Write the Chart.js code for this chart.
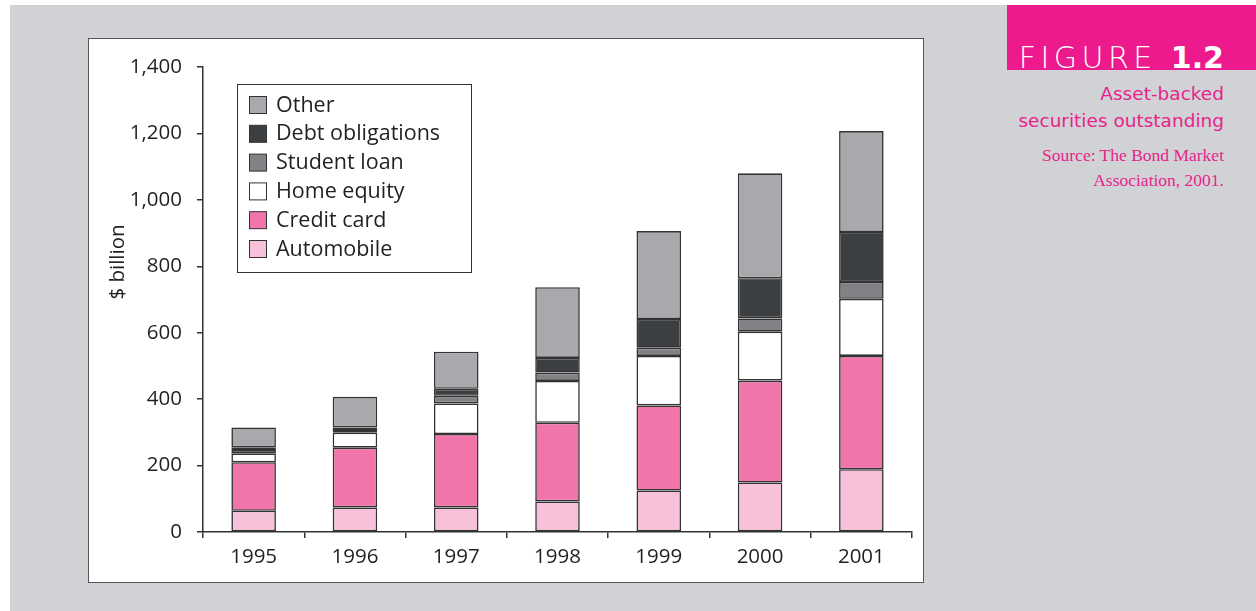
<!DOCTYPE html>
<html>
<head>
<meta charset="utf-8">
<script src="https://cdn.jsdelivr.net/npm/chart.js@4.4.1/dist/chart.umd.min.js"></script>
<style>
  body { margin: 0; width: 1256px; height: 611px; background: #fff; position: relative; overflow: hidden; }
  #bg { position: absolute; left: 10px; top: 5px; width: 1246px; height: 606px; background: #d1d2d5; }
  #box { position: absolute; left: 88px; top: 38px; width: 834px; height: 543px; background: #fff; border: 1px solid #555; }
  #header { position: absolute; left: 1007px; top: 5px; width: 249px; height: 65px; background: #ec1a8c; overflow: hidden; }
  #fig { position: absolute; right: 32px; top: 38px; color: #fff; font-family: "DejaVu Sans", sans-serif; font-size: 30px; line-height: 30px; white-space: nowrap; }
  #fig .word { font-weight: 200; letter-spacing: 4.5px; }
  #fig .num { font-weight: bold; }
  .cap { position: absolute; right: 32px; color: #e8238c; white-space: nowrap; text-align: right; }
  .cap.sans { font-family: "DejaVu Sans", sans-serif; font-size: 18.5px; }
  .cap.serif { font-family: "Liberation Serif", serif; font-size: 17.5px; }
</style>
</head>
<body>
<div id="bg"></div>
<div id="box"><canvas id="chart" width="834" height="543"></canvas></div>
<div id="header"><div id="fig"><span class="word">FIGURE </span><span class="num">1.2</span></div></div>
<div class="cap sans" style="top:83px">Asset-backed</div>
<div class="cap sans" style="top:110px">securities outstanding</div>
<div class="cap serif" style="top:145px">Source: The Bond Market</div>
<div class="cap serif" style="top:170px">Association, 2001.</div>
<script>
// chart data ($ billion)
const years = ['1995', '1996', '1997', '1998', '1999', '2000', '2001'];
const automobile = [64, 74, 74, 92, 125, 149, 189];
const creditCard = [146, 180, 221, 237, 256, 307, 341];
const homeEquity = [27, 45, 92, 126, 149, 147, 172];
const studentLoan = [10, 8, 23, 25, 25, 40, 51];
const debtObligations = [8, 8, 21, 44, 86, 121, 150];
const other = [60, 92, 112, 213, 265, 316, 304];
const yTicks = [0, 200, 400, 600, 800, 1000, 1200, 1400];

const textColor = '#231f20';
const fontName = '"Open Sans", sans-serif';

function series(label, data, color) {
    return {
        label: label,
        data: data,
        backgroundColor: color,
        borderColor: '#333333',
        borderWidth: 1.6,
        borderSkipped: false,
        barPercentage: 0.44,
        categoryPercentage: 1
    };
}

// legend box inside the plot + rotated y title
const boxLegend = {
    id: 'boxLegend',
    afterDraw(chart) {
        const ctx = chart.ctx;
        ctx.save();
        ctx.fillStyle = '#fff';
        ctx.strokeStyle = '#333';
        ctx.lineWidth = 1;
        ctx.fillRect(148.5, 45.5, 234, 188);
        ctx.strokeRect(148.5, 45.5, 234, 188);
        const items = chart.data.datasets.slice().reverse();
        ctx.font = '21.5px ' + fontName;
        ctx.textBaseline = 'middle';
        items.forEach((ds, i) => {
            const top = 57 + i * 28.8;
            ctx.fillStyle = ds.backgroundColor;
            ctx.fillRect(160.5, top + 0.5, 17, 17);
            ctx.strokeStyle = '#333';
            ctx.strokeRect(160.5, top + 0.5, 17, 17);
            ctx.fillStyle = textColor;
            ctx.fillText(ds.label, 187, top + 9.5);
        });
        // y axis title
        ctx.translate(29, 223);
        ctx.rotate(-Math.PI / 2);
        ctx.textAlign = 'center';
        ctx.font = '20.5px ' + fontName;
        ctx.fillText('$ billion', 0, 0);
        ctx.restore();
    }
};

const ctx = document.getElementById('chart').getContext('2d');
new Chart(ctx, {
    type: 'bar',
    data: {
        labels: years,
        datasets: [
            series('Automobile', automobile, '#f7c1d9'),
            series('Credit card', creditCard, '#f174ab'),
            series('Home equity', homeEquity, '#ffffff'),
            series('Student loan', studentLoan, '#808285'),
            series('Debt obligations', debtObligations, '#3c3f42'),
            series('Other', other, '#a7a9ac')
        ]
    },
    options: {
        responsive: false,
        animation: false,
        layout: { padding: { left: 0, right: 11, top: 28, bottom: 0 } },
        plugins: {
            legend: { display: false },
            tooltip: { enabled: false }
        },
        scales: {
            x: {
                stacked: true,
                afterFit: (scale) => { scale.height = 50; },
                grid: { offset: true, drawOnChartArea: false, color: '#333', tickLength: 6, lineWidth: 1.5 },
                border: { color: '#333', width: 1.5 },
                ticks: { color: textColor, font: { family: fontName, size: 20.5 }, padding: 7 }
            },
            y: {
                stacked: true,
                min: 0,
                max: 1400,
                afterFit: (scale) => { scale.width = 114; },
                afterBuildTicks: (scale) => { scale.ticks = yTicks.map(v => ({ value: v })); },
                grid: { drawOnChartArea: false, color: '#333', tickLength: 6, lineWidth: 1.5 },
                border: { color: '#333', width: 1.5 },
                ticks: {
                    color: textColor,
                    font: { family: fontName, size: 20.5 },
                    padding: 15,
                    callback: (v) => v.toLocaleString('en-US')
                }
            }
        }
    },
    plugins: [boxLegend]
});
</script>
</body>
</html>
